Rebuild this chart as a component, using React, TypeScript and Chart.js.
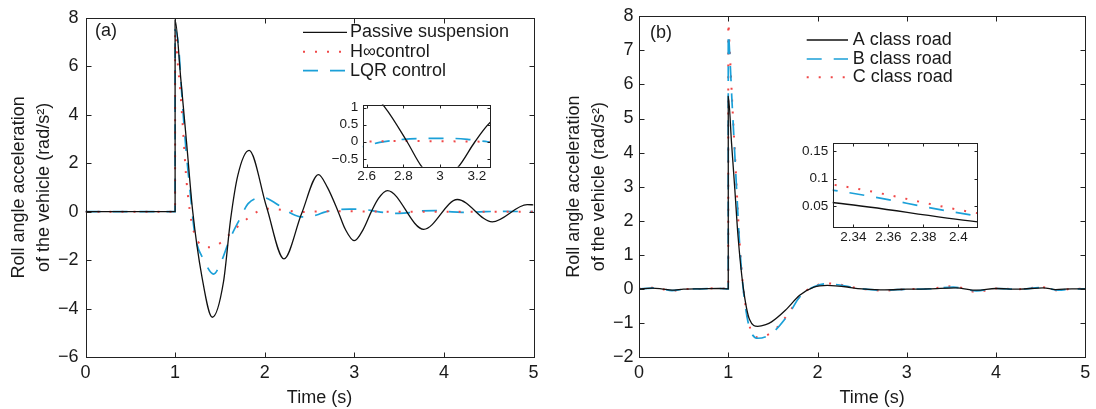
import React, { useEffect, useRef } from "react";
import { Chart, registerables } from "chart.js";

Chart.register(...registerables);

const FONT = "'Liberation Sans', Arial, Helvetica, sans-serif";
const INK = "#1a1a1a";

// ---------------- Panel (a) data ----------------
const aLabels = ["Passive suspension", "H\u221econtrol", "LQR control"];

const aPassiveT = [0, 1.0, 1.0, 1.063, 1.13, 1.196, 1.3, 1.415, 1.54, 1.62, 1.7, 1.826, 2.02, 2.215, 2.41, 2.6, 2.7, 2.82, 2.9, 3.0, 3.1, 3.19, 3.27, 3.37, 3.775, 4.15, 4.54, 4.93, 5.0];
const aPassiveV = [0, 0, 7.9, 5.5, 2.77, 0.03, -2.7, -4.36, -2.9, -0.3, 1.5, 2.53, 0.2, -1.95, -0.1, 1.53, 1.0, 0.0, -0.73, -1.2, -0.73, 0.0, 0.55, 0.87, -0.73, 0.5, -0.42, 0.29, 0.28];

const aHinfT = [0, 1.0, 1.0, 1.03, 1.06, 1.09, 1.12, 1.15, 1.18, 1.22, 1.29, 1.38, 1.47, 1.55, 1.63, 1.72, 1.81, 1.91, 2.02, 2.13, 2.26, 2.4, 2.55, 2.8, 3.1, 3.5, 4.0, 4.5, 5.0];
const aHinfV = [0, 0, 7.4, 6.1, 4.9, 3.3, 1.6, 0.45, -0.35, -0.95, -1.38, -1.47, -1.38, -1.15, -0.85, -0.55, -0.28, -0.02, 0.12, 0.1, 0.04, -0.02, 0.0, 0.02, 0.01, -0.01, 0.0, 0.0, 0.0];

const aLqrT = [0, 1.0, 1.0, 1.037, 1.08, 1.12, 1.167, 1.22, 1.326, 1.43, 1.5, 1.61, 1.72, 1.815, 1.99, 2.1, 2.2, 2.3, 2.42, 2.5, 2.58, 2.67, 2.8, 2.95, 3.05, 3.15, 3.26, 3.4, 3.5, 3.62, 3.75, 3.9, 4.05, 4.2, 4.4, 4.6, 5.0];
const aLqrV = [0, 0, 7.5, 6.88, 4.55, 2.63, 0.85, -0.93, -2.03, -2.58, -2.2, -1.14, -0.32, 0.33, 0.58, 0.4, 0.15, -0.08, -0.22, -0.2, -0.14, -0.02, 0.07, 0.1, 0.1, 0.07, 0.0, -0.06, -0.07, -0.04, 0.03, 0.04, 0.0, -0.03, -0.01, 0.01, 0.0];

const aXTicks = [0, 1, 2, 3, 4, 5];
const aYTicks = [-6, -4, -2, 0, 2, 4, 6, 8];
const aInsetXTicks = [2.6, 2.8, 3, 3.2];
const aInsetYTicks = [-0.5, 0, 0.5, 1];

// ---------------- Panel (b) data ----------------
const bLabels = ["A class road", "B class road", "C class road"];

const bAT = [0, 0.15, 0.25, 0.37, 0.5, 0.7, 0.9, 1.0, 1.0, 1.037, 1.074, 1.11, 1.167, 1.24, 1.33, 1.42, 1.485, 1.64, 1.8, 1.96, 2.11, 2.2, 2.333, 2.41, 2.5, 2.75, 3.0, 3.25, 3.55, 3.78, 4.0, 4.25, 4.53, 4.67, 4.85, 5.0];
const bAV = [0, 0.02, 0.0, -0.04, -0.01, 0.0, 0.01, 0.0, 5.65, 4.27, 2.9, 1.53, 0.06, -0.91, -1.1, -1.05, -0.97, -0.63, -0.19, 0.05, 0.1, 0.09, 0.055, 0.022, 0.0, -0.03, -0.01, 0.0, 0.03, -0.04, 0.01, -0.01, 0.03, -0.02, 0.0, 0.0];

const bBT = [0, 0.15, 0.25, 0.37, 0.5, 0.7, 0.9, 1.0, 1.0, 1.02, 1.04, 1.06, 1.08, 1.1, 1.125, 1.16, 1.22, 1.33, 1.49, 1.68, 1.8, 1.96, 2.11, 2.2, 2.333, 2.41, 2.5, 2.75, 3.0, 3.25, 3.52, 3.78, 4.0, 4.25, 4.52, 4.7, 4.85, 5.0];
const bBV = [0, 0.02, 0.0, -0.05, -0.01, 0.0, 0.01, 0.0, 7.5, 6.7, 5.6, 4.6, 3.6, 2.6, 1.4, 0.2, -0.95, -1.45, -1.3, -0.73, -0.24, 0.06, 0.15, 0.13, 0.077, 0.033, 0.0, -0.04, -0.01, 0.0, 0.05, -0.06, 0.01, -0.01, 0.04, -0.04, 0.0, 0.0];

const bCT = [0, 0.15, 0.25, 0.37, 0.5, 0.7, 0.9, 1.0, 1.0, 1.02, 1.04, 1.06, 1.08, 1.1, 1.125, 1.16, 1.22, 1.33, 1.49, 1.68, 1.8, 1.96, 2.11, 2.2, 2.333, 2.41, 2.5, 2.75, 3.0, 3.25, 3.52, 3.78, 4.0, 4.25, 4.52, 4.7, 4.85, 5.0];
const bCV = [0, 0.03, 0.0, -0.06, -0.01, 0.0, 0.02, 0.0, 7.8, 6.8, 5.7, 4.7, 3.7, 2.65, 1.45, 0.25, -0.9, -1.42, -1.27, -0.7, -0.22, 0.07, 0.16, 0.14, 0.087, 0.038, 0.0, -0.05, -0.01, 0.0, 0.08, -0.09, 0.01, -0.01, 0.05, -0.05, 0.0, 0.0];

const bXTicks = [0, 1, 2, 3, 4, 5];
const bYTicks = [-2, -1, 0, 1, 2, 3, 4, 5, 6, 7, 8];
const bInsetXTicks = [2.34, 2.36, 2.38, 2.4];
const bInsetYTicks = [0.05, 0.1, 0.15];

const xTitle = "Time (s)";
const yTitle = ["Roll angle acceleration", "of the vehicle (rad/s\u00b2)"];

// ---------------- styles ----------------
const BLACK = { color: "#111111", width: 1.3, dash: [] as number[] };
const RED = { color: "#f04848", width: 2, dash: [2, 10] };
const BLUE = { color: "#1ba0d8", width: 1.7, dash: [15, 12] };

type Series = { label: string; t: number[]; v: number[]; style: { color: string; width: number; dash: number[] } };

interface PanelCfg {
  width: number;
  height: number;
  area: { left: number; top: number; right: number; bottom: number };
  xMin: number; xMax: number; yMin: number; yMax: number;
  xTicks: number[]; yTicks: number[];
  font: number;
  xPad: number; yPad: number;
  tickLen: number;
  xTitle?: string;
  yTitle?: string[];
  yTitlePad?: number;
  legend?: { x0: number; x1: number; tx: number; rows: number[] };
  tag?: { text: string; x: number; y: number };
  whiteBg?: boolean;
  series: Series[];
}

const aSeries: Series[] = [
  { label: aLabels[0], t: aPassiveT, v: aPassiveV, style: BLACK },
  { label: aLabels[1], t: aHinfT, v: aHinfV, style: RED },
  { label: aLabels[2], t: aLqrT, v: aLqrV, style: BLUE },
];
const bSeries: Series[] = [
  { label: bLabels[0], t: bAT, v: bAV, style: BLACK },
  { label: bLabels[1], t: bBT, v: bBV, style: BLUE },
  { label: bLabels[2], t: bCT, v: bCV, style: RED },
];

function fmt(v: number) {
  return String(v).replace("-", "\u2212");
}

function makeChart(canvas: HTMLCanvasElement, c: PanelCfg) {
  const deco = {
    id: "deco",
    beforeDraw(chart: any) {
      if (!c.whiteBg) return;
      const { ctx, chartArea: a } = chart;
      ctx.save();
      ctx.fillStyle = "#ffffff";
      ctx.fillRect(a.left, a.top, a.right - a.left, a.bottom - a.top);
      ctx.restore();
    },
    afterDatasetsDraw(chart: any) {
      const { ctx, chartArea: a, scales } = chart;
      const snap = (p: number) => Math.round(p) + 0.5;
      ctx.save();
      ctx.strokeStyle = "#222222";
      ctx.lineWidth = 1;
      ctx.setLineDash([]);
      const L = snap(a.left), R = snap(a.right), T = snap(a.top), B = snap(a.bottom);
      ctx.strokeRect(L, T, R - L, B - T);
      ctx.beginPath();
      for (const tk of scales.x.ticks) {
        const p = snap(scales.x.getPixelForValue(tk.value));
        ctx.moveTo(p, B); ctx.lineTo(p, B - c.tickLen);
        ctx.moveTo(p, T); ctx.lineTo(p, T + c.tickLen);
      }
      for (const tk of scales.y.ticks) {
        const p = snap(scales.y.getPixelForValue(tk.value));
        ctx.moveTo(L, p); ctx.lineTo(L + c.tickLen, p);
        ctx.moveTo(R, p); ctx.lineTo(R - c.tickLen, p);
      }
      ctx.stroke();
      ctx.restore();
    },
    afterDraw(chart: any) {
      const { ctx } = chart;
      ctx.save();
      ctx.font = `18px ${FONT}`;
      ctx.fillStyle = INK;
      ctx.textBaseline = "middle";
      ctx.textAlign = "left";
      if (c.legend) {
        const lg = c.legend;
        c.series.forEach((s, i) => {
          const y = lg.rows[i];
          ctx.save();
          ctx.strokeStyle = s.style.color;
          ctx.lineWidth = s.style.width;
          ctx.setLineDash(s.style.dash);
          ctx.beginPath();
          ctx.moveTo(lg.x0, y);
          ctx.lineTo(lg.x1, y);
          ctx.stroke();
          ctx.restore();
          ctx.fillText(s.label, lg.tx, y);
        });
      }
      if (c.tag) ctx.fillText(c.tag.text, c.tag.x, c.tag.y);
      ctx.restore();
    },
  };

  return new Chart(canvas, {
    type: "line",
    data: {
      datasets: c.series.map((s) => ({
        label: s.label,
        data: s.t.map((x, i) => ({ x, y: s.v[i] })),
        borderColor: s.style.color,
        borderWidth: s.style.width,
        borderDash: s.style.dash,
        pointRadius: 0,
        pointHoverRadius: 0,
        fill: false,
        cubicInterpolationMode: "monotone",
      })),
    },
    options: {
      animation: false,
      responsive: false,
      maintainAspectRatio: false,
      devicePixelRatio: 1,
      events: [],
      layout: { padding: { left: 0, top: c.area.top, right: c.width - c.area.right, bottom: 0 } },
      plugins: { legend: { display: false }, tooltip: { enabled: false } },
      scales: {
        x: {
          type: "linear",
          min: c.xMin,
          max: c.xMax,
          grid: { display: false, drawTicks: false },
          border: { display: false },
          afterBuildTicks: (s: any) => { s.ticks = c.xTicks.map((value) => ({ value })); },
          afterFit: (s: any) => { s.height = c.height - c.area.bottom; },
          ticks: {
            autoSkip: false, maxRotation: 0, minRotation: 0, padding: c.xPad, color: INK,
            font: { family: FONT, size: c.font },
            callback: (v: any) => fmt(Number(v)),
          },
          title: c.xTitle
            ? { display: true, text: c.xTitle, color: INK, font: { family: FONT, size: 18, lineHeight: 1.2 }, padding: { top: 0, bottom: 0 } }
            : { display: false },
        },
        y: {
          type: "linear",
          min: c.yMin,
          max: c.yMax,
          grid: { display: false, drawTicks: false },
          border: { display: false },
          afterBuildTicks: (s: any) => { s.ticks = c.yTicks.map((value) => ({ value })); },
          afterFit: (s: any) => { s.width = c.area.left; },
          ticks: {
            autoSkip: false, padding: c.yPad, color: INK,
            font: { family: FONT, size: c.font },
            callback: (v: any) => fmt(Number(v)),
          },
          title: c.yTitle
            ? { display: true, text: c.yTitle, color: INK, font: { family: FONT, size: 18, lineHeight: 1.36 }, padding: { top: c.yTitlePad || 0, bottom: 0 } }
            : { display: false },
        },
      },
    } as any,
    plugins: [deco],
  } as any);
}

const panelA: PanelCfg = {
  width: 548, height: 409,
  area: { left: 85.5, top: 16, right: 533.5, bottom: 357 },
  xMin: 0, xMax: 5, yMin: -6, yMax: 8,
  xTicks: aXTicks, yTicks: aYTicks,
  font: 18, xPad: 5.7, yPad: 7, tickLen: 5,
  xTitle: "\u00a0\u00a0\u00a0\u00a0" + xTitle, yTitle, yTitlePad: 7,
  legend: { x0: 303, x1: 347, tx: 350, rows: [32.3, 51.7, 70.7] },
  tag: { text: "(a)", x: 95, y: 31.5 },
  series: aSeries,
};

const panelB: PanelCfg = {
  width: 548, height: 409,
  area: { left: 91, top: 16, right: 539.5, bottom: 357 },
  xMin: 0, xMax: 5, yMin: -2, yMax: 8,
  xTicks: bXTicks, yTicks: bYTicks,
  font: 18, xPad: 5.7, yPad: 5.5, tickLen: 5,
  xTitle: "\u00a0\u00a0\u00a0\u00a0" + xTitle, yTitle, yTitlePad: 14,
  legend: { x0: 258.7, x1: 300, tx: 304.7, rows: [40, 59, 77.3] },
  tag: { text: "(b)", x: 102, y: 33.5 },
  series: bSeries,
};

const insetA: PanelCfg = {
  width: 170, height: 98,
  area: { left: 37.7, top: 8, right: 165, bottom: 74.7 },
  xMin: 2.578, xMax: 3.272, yMin: -0.73, yMax: 1.09,
  xTicks: aInsetXTicks, yTicks: aInsetYTicks,
  font: 13.5, xPad: 1.9, yPad: 4.4, tickLen: 3,
  whiteBg: true,
  series: aSeries,
};

const insetB: PanelCfg = {
  width: 188, height: 118,
  area: { left: 37.7, top: 7.3, right: 182.2, bottom: 96.7 },
  xMin: 2.3282, xMax: 2.4108, yMin: 0.0128, yMax: 0.166,
  xTicks: bInsetXTicks, yTicks: bInsetYTicks,
  font: 13.5, xPad: 2.5, yPad: 4.4, tickLen: 3,
  whiteBg: true,
  series: bSeries,
};

function ChartCanvas({ cfg, left, top }: { cfg: PanelCfg; left: number; top: number }) {
  const ref = useRef<HTMLCanvasElement | null>(null);
  useEffect(() => {
    if (!ref.current) return;
    const ch = makeChart(ref.current, cfg);
    return () => ch.destroy();
  }, [cfg]);
  return (
    <canvas
      ref={ref}
      width={cfg.width}
      height={cfg.height}
      style={{ position: "absolute", left, top, width: cfg.width, height: cfg.height, display: "block" }}
    />
  );
}

export default function App() {
  return (
    <div style={{ position: "absolute", left: 0, top: 0, width: 1096, height: 409, background: "#ffffff", overflow: "hidden" }}>
      <ChartCanvas cfg={panelA} left={0} top={0} />
      <ChartCanvas cfg={panelB} left={548} top={0} />
      <ChartCanvas cfg={insetA} left={325} top={92} />
      <ChartCanvas cfg={insetB} left={795} top={130} />
    </div>
  );
}
